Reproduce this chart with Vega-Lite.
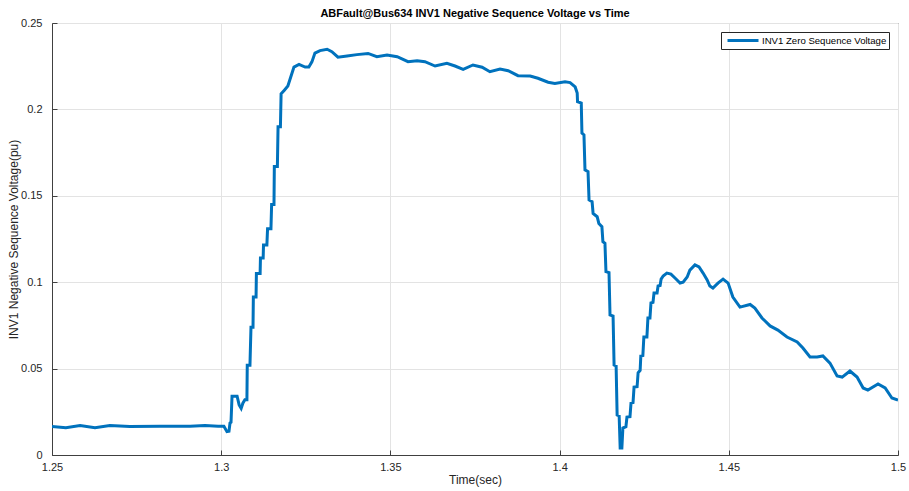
{
  "$schema": "https://vega.github.io/schema/vega-lite/v6.json",
  "width": 846,
  "height": 432,
  "autosize": "none",
  "padding": {"left": 52, "top": 23, "right": 11, "bottom": 36},
  "background": "white",
  "title": {
    "text": "ABFault@Bus634 INV1 Negative Sequence Voltage vs Time",
    "font": "Liberation Sans",
    "fontSize": 11,
    "fontWeight": "bold",
    "color": "#000000",
    "anchor": "middle",
    "offset": -2
  },
  "config": {
    "font": "Liberation Sans",
    "view": {"stroke": "#404040", "strokeWidth": 1}
  },
  "data": {
    "values": [
      {"t": 1.25, "v": 0.0165},
      {"t": 1.2541, "v": 0.0158},
      {"t": 1.2583, "v": 0.017},
      {"t": 1.2627, "v": 0.0158},
      {"t": 1.2671, "v": 0.017},
      {"t": 1.273, "v": 0.0165},
      {"t": 1.2819, "v": 0.0166},
      {"t": 1.2908, "v": 0.0167},
      {"t": 1.2952, "v": 0.017},
      {"t": 1.2991, "v": 0.0166},
      {"t": 1.3008, "v": 0.0166},
      {"t": 1.3017, "v": 0.0135},
      {"t": 1.3023, "v": 0.0137},
      {"t": 1.3026, "v": 0.0185},
      {"t": 1.3029, "v": 0.019},
      {"t": 1.3032, "v": 0.034},
      {"t": 1.3047, "v": 0.034},
      {"t": 1.3053, "v": 0.029},
      {"t": 1.3059, "v": 0.027},
      {"t": 1.3064, "v": 0.03},
      {"t": 1.307, "v": 0.032},
      {"t": 1.3076, "v": 0.032},
      {"t": 1.3077, "v": 0.052},
      {"t": 1.3085, "v": 0.052},
      {"t": 1.3088, "v": 0.074},
      {"t": 1.3094, "v": 0.074},
      {"t": 1.3095, "v": 0.0915},
      {"t": 1.3103, "v": 0.0915},
      {"t": 1.3104, "v": 0.105},
      {"t": 1.3115, "v": 0.105},
      {"t": 1.3116, "v": 0.114},
      {"t": 1.3124, "v": 0.114},
      {"t": 1.3125, "v": 0.1215},
      {"t": 1.3135, "v": 0.1215},
      {"t": 1.3137, "v": 0.131},
      {"t": 1.3147, "v": 0.131},
      {"t": 1.3149, "v": 0.145},
      {"t": 1.3156, "v": 0.145},
      {"t": 1.3157, "v": 0.167},
      {"t": 1.3166, "v": 0.167},
      {"t": 1.3168, "v": 0.19},
      {"t": 1.3175, "v": 0.19},
      {"t": 1.3177, "v": 0.209},
      {"t": 1.3186, "v": 0.211},
      {"t": 1.3197, "v": 0.2135},
      {"t": 1.3206, "v": 0.219},
      {"t": 1.3215, "v": 0.2245},
      {"t": 1.323, "v": 0.226},
      {"t": 1.3248, "v": 0.2245},
      {"t": 1.3259, "v": 0.2245},
      {"t": 1.3268, "v": 0.2275},
      {"t": 1.3277, "v": 0.2326},
      {"t": 1.3292, "v": 0.234},
      {"t": 1.3313, "v": 0.2348},
      {"t": 1.3327, "v": 0.2334},
      {"t": 1.3345, "v": 0.2302},
      {"t": 1.3372, "v": 0.2309},
      {"t": 1.3401, "v": 0.2317},
      {"t": 1.3434, "v": 0.2324},
      {"t": 1.346, "v": 0.2305},
      {"t": 1.349, "v": 0.2315},
      {"t": 1.352, "v": 0.2305},
      {"t": 1.3552, "v": 0.2276},
      {"t": 1.3579, "v": 0.2282},
      {"t": 1.3602, "v": 0.2276},
      {"t": 1.3632, "v": 0.2251},
      {"t": 1.3667, "v": 0.2267},
      {"t": 1.3691, "v": 0.2251},
      {"t": 1.3715, "v": 0.2232},
      {"t": 1.3744, "v": 0.2257},
      {"t": 1.3771, "v": 0.2244},
      {"t": 1.3794, "v": 0.2218},
      {"t": 1.3824, "v": 0.2234},
      {"t": 1.3848, "v": 0.2224},
      {"t": 1.3877, "v": 0.2195},
      {"t": 1.3913, "v": 0.2193},
      {"t": 1.3936, "v": 0.218},
      {"t": 1.3966, "v": 0.2157},
      {"t": 1.3986, "v": 0.215},
      {"t": 1.4016, "v": 0.216},
      {"t": 1.4031, "v": 0.2155},
      {"t": 1.4046, "v": 0.213},
      {"t": 1.4052, "v": 0.2095},
      {"t": 1.4053, "v": 0.2045},
      {"t": 1.4064, "v": 0.2037},
      {"t": 1.4066, "v": 0.1863},
      {"t": 1.4072, "v": 0.1852},
      {"t": 1.4075, "v": 0.165},
      {"t": 1.4084, "v": 0.164},
      {"t": 1.4087, "v": 0.1476},
      {"t": 1.4096, "v": 0.1466},
      {"t": 1.4099, "v": 0.1398},
      {"t": 1.4111, "v": 0.1379},
      {"t": 1.4116, "v": 0.134},
      {"t": 1.4125, "v": 0.1321},
      {"t": 1.4128, "v": 0.1234},
      {"t": 1.4134, "v": 0.1225},
      {"t": 1.4137, "v": 0.1061},
      {"t": 1.4146, "v": 0.1055},
      {"t": 1.4149, "v": 0.081},
      {"t": 1.4158, "v": 0.0804},
      {"t": 1.4161, "v": 0.0521},
      {"t": 1.4167, "v": 0.0515},
      {"t": 1.417, "v": 0.0231},
      {"t": 1.4176, "v": 0.0226},
      {"t": 1.4179, "v": 0.004},
      {"t": 1.4184, "v": 0.004},
      {"t": 1.4187, "v": 0.0156},
      {"t": 1.4196, "v": 0.0164},
      {"t": 1.4199, "v": 0.022},
      {"t": 1.4208, "v": 0.0222},
      {"t": 1.4211, "v": 0.03},
      {"t": 1.4217, "v": 0.0303},
      {"t": 1.422, "v": 0.0393},
      {"t": 1.4229, "v": 0.0395},
      {"t": 1.4232, "v": 0.0476},
      {"t": 1.4238, "v": 0.049},
      {"t": 1.424, "v": 0.0573},
      {"t": 1.4246, "v": 0.0576},
      {"t": 1.4249, "v": 0.0683},
      {"t": 1.4258, "v": 0.0683},
      {"t": 1.4261, "v": 0.0793},
      {"t": 1.4267, "v": 0.0793},
      {"t": 1.427, "v": 0.088},
      {"t": 1.4276, "v": 0.0883},
      {"t": 1.4279, "v": 0.0937},
      {"t": 1.4288, "v": 0.0937},
      {"t": 1.4291, "v": 0.0978},
      {"t": 1.4297, "v": 0.0981},
      {"t": 1.43, "v": 0.1018},
      {"t": 1.4306, "v": 0.1036},
      {"t": 1.4317, "v": 0.1053},
      {"t": 1.4329, "v": 0.1047},
      {"t": 1.4341, "v": 0.1024},
      {"t": 1.4356, "v": 0.0995},
      {"t": 1.4365, "v": 0.1},
      {"t": 1.4377, "v": 0.103},
      {"t": 1.4385, "v": 0.107},
      {"t": 1.44, "v": 0.11},
      {"t": 1.4412, "v": 0.1088},
      {"t": 1.4424, "v": 0.1053},
      {"t": 1.4436, "v": 0.1013},
      {"t": 1.4444, "v": 0.0978},
      {"t": 1.4453, "v": 0.0966},
      {"t": 1.4468, "v": 0.0995},
      {"t": 1.4483, "v": 0.1018},
      {"t": 1.4498, "v": 0.0995},
      {"t": 1.4512, "v": 0.0914},
      {"t": 1.4533, "v": 0.0856},
      {"t": 1.4563, "v": 0.0871},
      {"t": 1.4577, "v": 0.085},
      {"t": 1.4598, "v": 0.0793},
      {"t": 1.4622, "v": 0.0747},
      {"t": 1.4645, "v": 0.0723},
      {"t": 1.4672, "v": 0.0683},
      {"t": 1.4702, "v": 0.0654},
      {"t": 1.4719, "v": 0.0619},
      {"t": 1.474, "v": 0.0567},
      {"t": 1.4761, "v": 0.0567},
      {"t": 1.4778, "v": 0.0573},
      {"t": 1.4799, "v": 0.0532},
      {"t": 1.482, "v": 0.0457},
      {"t": 1.4835, "v": 0.0451},
      {"t": 1.4858, "v": 0.0486},
      {"t": 1.4879, "v": 0.0451},
      {"t": 1.4897, "v": 0.0388},
      {"t": 1.4911, "v": 0.0376},
      {"t": 1.4941, "v": 0.0411},
      {"t": 1.4962, "v": 0.0388},
      {"t": 1.4982, "v": 0.033},
      {"t": 1.5, "v": 0.0318}
    ]
  },
  "mark": {"type": "line", "strokeWidth": 3, "interpolate": "linear", "clip": true},
  "encoding": {
    "x": {
      "field": "t",
      "type": "quantitative",
      "scale": {"domain": [1.25, 1.5], "nice": false, "zero": false},
      "axis": {
        "values": [1.25, 1.3, 1.35, 1.4, 1.45, 1.5],
        "format": "~g",
        "title": "Time(sec)",
        "titleFontSize": 12,
        "titleFontWeight": "normal",
        "titleColor": "#262626",
        "titlePadding": 2,
        "labelColor": "#262626",
        "labelFontSize": 11,
        "labelPadding": 11,
        "labelFlush": false,
        "tickSize": -5,
        "tickColor": "#404040",
        "domainColor": "#404040",
        "gridColor": "#e3e3e3"
      }
    },
    "y": {
      "field": "v",
      "type": "quantitative",
      "scale": {"domain": [0, 0.25], "nice": false},
      "axis": {
        "values": [0, 0.05, 0.1, 0.15, 0.2, 0.25],
        "format": "~g",
        "title": "INV1 Negative Sequence Voltage(pu)",
        "titleFontSize": 12,
        "titleFontWeight": "normal",
        "titleColor": "#262626",
        "titlePadding": 0,
        "labelColor": "#262626",
        "labelFontSize": 11,
        "labelPadding": 15,
        "labelFlush": false,
        "tickSize": -5,
        "tickColor": "#404040",
        "domainColor": "#404040",
        "gridColor": "#e3e3e3"
      }
    },
    "color": {
      "datum": "INV1 Zero Sequence Voltage",
      "type": "nominal",
      "scale": {"range": ["#0072BD"]},
      "legend": {
        "title": null,
        "orient": "top-right",
        "offset": 9,
        "symbolType": "M-0.4,0H5.8",
        "symbolSize": 100,
        "symbolStrokeWidth": 3,
        "labelOffset": 26,
        "labelFontSize": 9.6,
        "labelColor": "#000000",
        "strokeColor": "#262626",
        "fillColor": "white",
        "padding": 2
      }
    }
  }
}
